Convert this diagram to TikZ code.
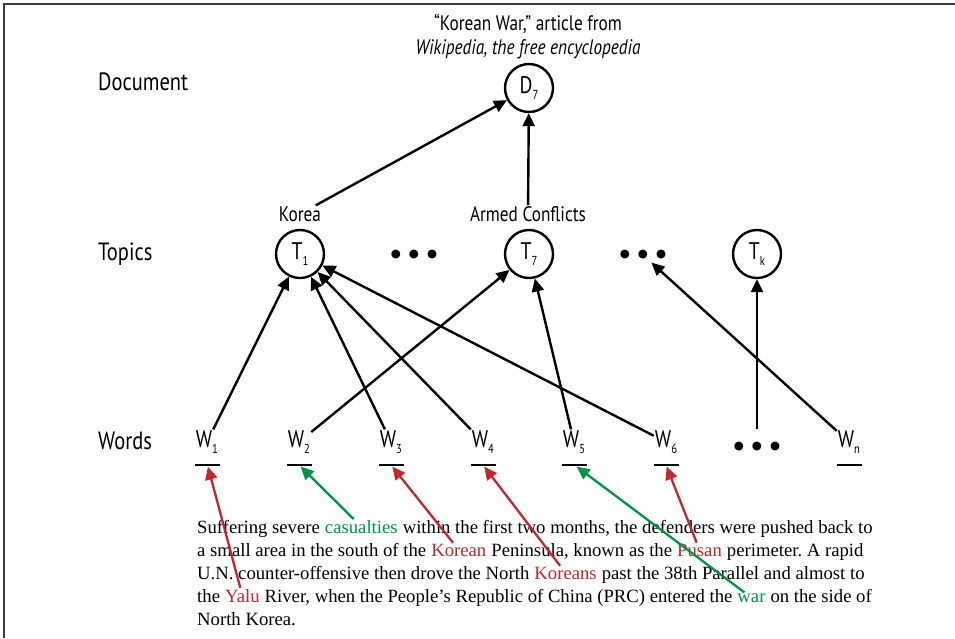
\documentclass[tikz,border=0pt]{standalone}
\usepackage{fontspec}
\setmainfont{Liberation Serif}
\newfontfamily\labfont[FakeStretch=0.82]{PT Sans}
\newfontfamily\dotfont{DejaVu Sans}
\usetikzlibrary{arrows.meta}
\definecolor{kred}{RGB}{193,39,45}
\definecolor{kgreen}{RGB}{0,146,69}
\definecolor{framegray}{RGB}{60,60,60}
\frenchspacing
\newcommand\subx[1]{\raisebox{-0.5ex}{\fontsize{13}{13}\selectfont #1}}
\newcommand\threedots{{\dotfont\fontsize{11.5}{12}\selectfont ●\hspace{8pt}●\hspace{8pt}●}}
\begin{document}
\begin{tikzpicture}[x=1pt,y=-1pt,
  lab/.style={font=\labfont\fontsize{25}{28}\selectfont, inner sep=1pt, anchor=west},
  circ/.style={circle, draw, line width=2.4pt, minimum size=48pt, inner sep=0pt, font=\labfont\fontsize{24}{24}\selectfont},
  tlab/.style={font=\labfont\fontsize{21}{24}\selectfont, inner sep=1pt},
  wlab/.style={font=\labfont\fontsize{24}{24}\selectfont, inner sep=1pt},
  uline/.style={fill=black, minimum width=25pt, minimum height=2.8pt, inner sep=0pt},
  arr/.style={line width=2.4pt, -{Triangle[length=13pt,width=12pt]}},
  tarr/.style={line width=2.3pt, -{Triangle[length=13pt,width=12pt]}, shorten <=1pt},
  seg/.style={inner sep=0pt, anchor=base west, font=\frenchspacing\fontsize{18.7}{23}\selectfont},
  dotsn/.style={inner sep=3pt}]
\useasboundingbox (0,0) rectangle (955,638);
\fill[white] (0,0) rectangle (955,638);
\draw[framegray, line width=2.5pt] (4,638) -- (4,4) -- (955,4);

% title
\node[tlab, align=center] (title) at (528,37) {“Korean War,” article from\\\textit{Wikipedia, the free encyclopedia}};

% row labels
\node[lab] (ldoc) at (97,82) {Document};
\node[lab] (ltop) at (97,254) {Topics};
\node[lab] (lwor) at (97,441) {Words};

% document
\node[circ] (d7) at (529,88) {D\subx{7}};

% topics
\node[circ] (t1) at (300,254) {T\subx{1}};
\node[circ] (t7) at (529,254) {T\subx{7}};
\node[circ] (tk) at (757,254) {T\subx{k}};
\node[dotsn] (tdots1) at (414,255) {\threedots};
\node[dotsn] (tdots2) at (643,255) {\threedots};
\node[tlab] (korea) at (300,214) {Korea};
\node[tlab] (armed) at (528,214) {Armed Conflicts};

% words
\node[wlab] (w1) at (207,442) {W\subx{1}};
\node[wlab] (w2) at (299,442) {W\subx{2}};
\node[wlab] (w3) at (391,442) {W\subx{3}};
\node[wlab] (w4) at (483,442) {W\subx{4}};
\node[wlab] (w5) at (574,442) {W\subx{5}};
\node[wlab] (w6) at (666,442) {W\subx{6}};
\node[wlab] (wn) at (849,442) {W\subx{n}};
\node[dotsn] (wdots) at (757,447) {\threedots};
\node[uline] (u1) at (207.5,465) {};
\node[uline] (u2) at (299,465) {};
\node[uline] (u3) at (391,465) {};
\node[uline] (u4) at (483,465) {};
\node[uline] (u5) at (574.5,465) {};
\node[uline] (u6) at (666,465) {};
\node[uline] (un) at (849.5,465) {};

% black connectors
\draw[arr] (korea) -- (d7);
\draw[arr] (armed) -- (d7);
\draw[arr] (w1) -- (t1);
\draw[arr] (w2) -- (t7);
\draw[arr] (w3) -- (t1);
\draw[arr] (w4) -- (t1);
\draw[arr] (w5) -- (t7);
\draw[arr] (w6) -- (t1);
\draw[arr] (wn) -- (tdots2);
\draw[arr, shorten <=10pt] (wdots) -- (tk);

% text
\node[seg] (l1a) at (197,533) {Suffering severe\ \null};
\node[seg, text=kgreen] (casualties) at (l1a.base east) {casualties};
\node[seg] (l1b) at (casualties.base east) {\ within the first two months, the defenders were pushed back to};
\node[seg] (l2a) at (197,556) {a small area in the south of the\ \null};
\node[seg, text=kred] (korean) at (l2a.base east) {Korean};
\node[seg] (l2b) at (korean.base east) {\ Peninsula, known as the\ \null};
\node[seg, text=kred] (pusan) at (l2b.base east) {Pusan};
\node[seg] (l2c) at (pusan.base east) {\ perimeter. A rapid};
\node[seg] (l3a) at (197,579) {U.N. counter-offensive then drove the North\ \null};
\node[seg, text=kred] (koreans) at (l3a.base east) {Koreans};
\node[seg] (l3b) at (koreans.base east) {\ past the 38th Parallel and almost to};
\node[seg] (l4a) at (197,602) {the\ \null};
\node[seg, text=kred] (yalu) at (l4a.base east) {Yalu};
\node[seg] (l4b) at (yalu.base east) {\ River, when the People’s Republic of China (PRC) entered the\ \null};
\node[seg, text=kgreen] (war) at (l4b.base east) {war};
\node[seg] (l4c) at (war.base east) {\ on the side of};
\node[seg] (l5a) at (197,625) {North Korea.};

% coloured connectors
\draw[tarr, kred] (yalu) -- (u1);
\draw[tarr, kgreen] (casualties) -- (u2);
\draw[tarr, kred] (korean) -- (u3);
\draw[tarr, kred] (koreans) -- (u4);
\draw[tarr, kgreen] (war) -- (u5);
\draw[tarr, kred] (pusan) -- (u6);
\end{tikzpicture}
\end{document}
